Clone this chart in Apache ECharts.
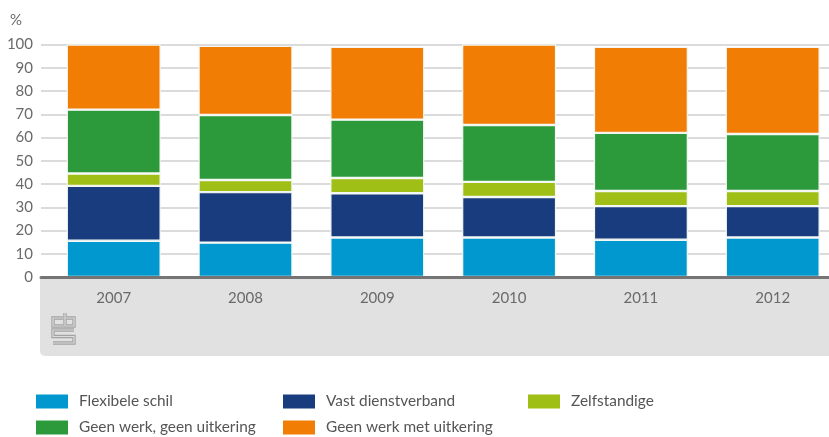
<!DOCTYPE html>
<html>
<head>
<meta charset="utf-8">
<style>
  html, body { margin: 0; padding: 0; background: #fff; }
  #chart { width: 829px; height: 437px; }
</style>
<script src="https://cdn.jsdelivr.net/npm/echarts@6/dist/echarts.min.js"></script>
</head>
<body>
<div id="chart"></div>
<script>
var years = ['2007', '2008', '2009', '2010', '2011', '2012'];

// aandelen in % (gestapeld van onder naar boven)
var flexibeleSchil = [15.6, 14.8, 17, 17, 16, 17];
var vastDienstverband = [23.6, 21.7, 19, 17.4, 14.5, 13.5];
var zelfstandige = [5.3, 5.2, 6.6, 6.5, 6.5, 6.5];
var geenWerkGeenUitkering = [27.5, 28, 25.1, 24.5, 25, 24.5];
var geenWerkMetUitkering = [28, 29.7, 31.3, 34.6, 37, 37.5];

var colors = {
	flex: '#0098cf',
	vast: '#193c7f',
	zelf: '#a0bf16',
	groen: '#2c9a3b',
	oranje: '#f27d05'
};
var textColor = '#6a6a6a';
var fontFamily = 'Lato';

// cbs-logo: lijnstukken in het grijze vlak
var logoLines = [
	[[63, 318], [53, 318], [53, 326], [63, 326]],
	[[65, 313], [65, 326], [74, 326], [74, 318], [65, 318]],
	[[74, 330], [53, 330], [53, 336.5], [74, 336.5], [74, 343], [53, 343]]
];

function barSeries(name, values, color) {
	return {
		name: name,
		type: 'bar',
		stack: 'totaal',
		xAxisIndex: 0,
		yAxisIndex: 0,
		barWidth: 94,
		data: values,
		itemStyle: { color: color, borderColor: '#f4f8f4', borderWidth: 1.2 },
		z: 5
	};
}

function legendItem(name, left, top) {
	return {
		data: [name],
		left: left,
		top: top,
		itemWidth: 32,
		itemHeight: 14,
		itemGap: 0,
		padding: 0,
		icon: 'rect',
		itemStyle: { borderWidth: 0 },
		textStyle: { color: '#555555', fontFamily: fontFamily, fontSize: 15.4, padding: [4, 0, 0, 6] }
	};
}

function logoGraphics() {
	var list = [];
	logoLines.forEach(function(points) {
		list.push({ type: 'polyline', silent: true, z: 1, shape: { points: points }, style: { fill: null, stroke: '#a3a3a3', lineWidth: 3.4 } });
		list.push({ type: 'polyline', silent: true, z: 2, shape: { points: points }, style: { fill: null, stroke: '#dcdcdc', lineWidth: 1.2 } });
	});
	return list;
}

var chart = echarts.init(document.getElementById('chart'), null, { renderer: 'canvas' });

chart.setOption({
	animation: false,
	backgroundColor: '#ffffff',
	grid: [
		// staven (loopt rechts buiten beeld door, net als in de figuur)
		{ left: 47.8, top: 44.5, width: 790.8, height: 232.5, outerBoundsMode: 'none' },
		// rasterlijnen en as lopen verder door naar links
		{ left: 41, top: 44.5, width: 788, height: 232.5, outerBoundsMode: 'none' }
	],
	xAxis: [
		{
			type: 'category',
			gridIndex: 0,
			data: years,
			axisLine: { show: false },
			axisTick: { show: false },
			axisLabel: { color: textColor, fontFamily: fontFamily, fontSize: 15, margin: 14 }
		},
		{
			type: 'value',
			gridIndex: 1,
			min: 0,
			max: 1,
			z: 10,
			axisLine: { show: true, onZero: false, lineStyle: { color: '#757575', width: 3 } },
			axisTick: { show: false },
			axisLabel: { show: false },
			splitLine: { show: false }
		}
	],
	yAxis: [
		{
			type: 'value',
			gridIndex: 0,
			min: 0,
			max: 100,
			interval: 10,
			axisLine: { show: false },
			axisTick: { show: false },
			axisLabel: { show: false },
			splitLine: { show: false }
		},
		{
			type: 'value',
			gridIndex: 1,
			min: 0,
			max: 100,
			interval: 10,
			name: '%',
			nameLocation: 'end',
			nameGap: 17,
			nameTextStyle: { color: textColor, fontFamily: fontFamily, fontSize: 15, align: 'left', padding: [0, 0, 0, -31] },
			axisLine: { show: false },
			axisTick: { show: false },
			axisLabel: { color: textColor, fontFamily: fontFamily, fontSize: 15, margin: 8 },
			splitLine: { show: true, lineStyle: { color: '#cfcfcf', width: 1.5 } }
		}
	],
	legend: [
		legendItem('Flexibele schil', 36, 394),
		legendItem('Vast dienstverband', 283, 394),
		legendItem('Zelfstandige', 528, 394),
		legendItem('Geen werk, geen uitkering', 36, 420),
		legendItem('Geen werk met uitkering', 283, 420)
	],
	graphic: [
		{
			type: 'rect',
			silent: true,
			z: -1,
			shape: { x: 40, y: 277, width: 789, height: 79, r: [0, 0, 0, 5] },
			style: { fill: '#e1e1e1' }
		}
	].concat(logoGraphics()),
	series: [
		barSeries('Flexibele schil', flexibeleSchil, colors.flex),
		barSeries('Vast dienstverband', vastDienstverband, colors.vast),
		barSeries('Zelfstandige', zelfstandige, colors.zelf),
		barSeries('Geen werk, geen uitkering', geenWerkGeenUitkering, colors.groen),
		barSeries('Geen werk met uitkering', geenWerkMetUitkering, colors.oranje)
	]
});
</script>
</body>
</html>
